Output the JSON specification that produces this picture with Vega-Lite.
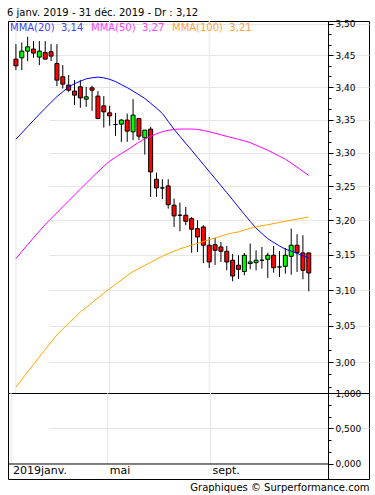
{
  "$schema": "https://vega.github.io/schema/vega-lite/v6.json",
  "background": "white",
  "padding": {"left": 7, "top": 8, "right": 0, "bottom": 0},
  "bounds": "flush",
  "title": {"text": "6 janv. 2019 - 31 déc. 2019 - Dr : 3,12", "anchor": "start", "fontSize": 10, "fontWeight": "normal", "font": "DejaVu Sans", "color": "#000", "offset": 1},
  "datasets": {
    "grid": [
      {"date": "2019-01-07", "label": "2019janv."},
      {"date": "2019-04-29", "label": "mai"},
      {"date": "2019-08-26", "label": "sept."}
    ],
    "candles": [
      {"date": "2019-01-07", "open": 3.4437, "high": 3.4673, "low": 3.4265, "close": 3.4332, "ma20": 3.3204, "ma50": 3.1446, "ma100": 2.9660},
      {"date": "2019-01-14", "open": 3.4458, "high": 3.4699, "low": 3.4265, "close": 3.4563, "ma20": 3.3298, "ma50": 3.1548, "ma100": 2.9763},
      {"date": "2019-01-21", "open": 3.4563, "high": 3.4789, "low": 3.4406, "close": 3.4631, "ma20": 3.3394, "ma50": 3.1647, "ma100": 2.9865},
      {"date": "2019-01-28", "open": 3.4595, "high": 3.4721, "low": 3.4458, "close": 3.4532, "ma20": 3.3489, "ma50": 3.1747, "ma100": 2.9969},
      {"date": "2019-02-04", "open": 3.4469, "high": 3.4721, "low": 3.4343, "close": 3.4563, "ma20": 3.3583, "ma50": 3.1843, "ma100": 3.0070},
      {"date": "2019-02-11", "open": 3.4541, "high": 3.4721, "low": 3.4430, "close": 3.4437, "ma20": 3.3675, "ma50": 3.1937, "ma100": 3.0171},
      {"date": "2019-02-18", "open": 3.4552, "high": 3.4673, "low": 3.4406, "close": 3.4484, "ma20": 3.3767, "ma50": 3.2026, "ma100": 3.0272},
      {"date": "2019-02-25", "open": 3.4368, "high": 3.4673, "low": 3.4016, "close": 3.4109, "ma20": 3.3854, "ma50": 3.2109, "ma100": 3.0374},
      {"date": "2019-03-04", "open": 3.4161, "high": 3.4343, "low": 3.3979, "close": 3.4047, "ma20": 3.3928, "ma50": 3.2197, "ma100": 3.0455},
      {"date": "2019-03-11", "open": 3.4032, "high": 3.4187, "low": 3.3928, "close": 3.3954, "ma20": 3.4004, "ma50": 3.2285, "ma100": 3.0532},
      {"date": "2019-03-18", "open": 3.3939, "high": 3.4109, "low": 3.3723, "close": 3.3877, "ma20": 3.4055, "ma50": 3.2372, "ma100": 3.0611},
      {"date": "2019-03-25", "open": 3.4005, "high": 3.4109, "low": 3.3682, "close": 3.3835, "ma20": 3.4092, "ma50": 3.2458, "ma100": 3.0690},
      {"date": "2019-04-01", "open": 3.3815, "high": 3.4005, "low": 3.3697, "close": 3.3851, "ma20": 3.4129, "ma50": 3.2544, "ma100": 3.0756},
      {"date": "2019-04-08", "open": 3.3990, "high": 3.4021, "low": 3.3636, "close": 3.3954, "ma20": 3.4145, "ma50": 3.2630, "ma100": 3.0822},
      {"date": "2019-04-15", "open": 3.3862, "high": 3.3939, "low": 3.3509, "close": 3.3518, "ma20": 3.4156, "ma50": 3.2715, "ma100": 3.0888},
      {"date": "2019-04-22", "open": 3.3712, "high": 3.3862, "low": 3.3381, "close": 3.3620, "ma20": 3.4145, "ma50": 3.2797, "ma100": 3.0954},
      {"date": "2019-04-29", "open": 3.3605, "high": 3.3712, "low": 3.3407, "close": 3.3559, "ma20": 3.4122, "ma50": 3.2873, "ma100": 3.1020},
      {"date": "2019-05-06", "open": 3.3427, "high": 3.3605, "low": 3.3255, "close": 3.3427, "ma20": 3.4087, "ma50": 3.2933, "ma100": 3.1081},
      {"date": "2019-05-13", "open": 3.3433, "high": 3.3509, "low": 3.3164, "close": 3.3494, "ma20": 3.4039, "ma50": 3.2987, "ma100": 3.1142},
      {"date": "2019-05-20", "open": 3.3494, "high": 3.3594, "low": 3.3164, "close": 3.3326, "ma20": 3.3993, "ma50": 3.3041, "ma100": 3.1205},
      {"date": "2019-05-27", "open": 3.3316, "high": 3.3815, "low": 3.3190, "close": 3.3570, "ma20": 3.3939, "ma50": 3.3100, "ma100": 3.1263},
      {"date": "2019-06-03", "open": 3.3518, "high": 3.3529, "low": 3.3190, "close": 3.3250, "ma20": 3.3883, "ma50": 3.3159, "ma100": 3.1306},
      {"date": "2019-06-10", "open": 3.3225, "high": 3.3341, "low": 3.2972, "close": 3.3341, "ma20": 3.3826, "ma50": 3.3209, "ma100": 3.1350},
      {"date": "2019-06-17", "open": 3.3357, "high": 3.3392, "low": 3.2343, "close": 3.2713, "ma20": 3.3752, "ma50": 3.3247, "ma100": 3.1393},
      {"date": "2019-06-24", "open": 3.2604, "high": 3.2703, "low": 3.2343, "close": 3.2475, "ma20": 3.3678, "ma50": 3.3285, "ma100": 3.1437},
      {"date": "2019-07-01", "open": 3.2475, "high": 3.2604, "low": 3.2309, "close": 3.2475, "ma20": 3.3596, "ma50": 3.3318, "ma100": 3.1480},
      {"date": "2019-07-08", "open": 3.2505, "high": 3.2604, "low": 3.2171, "close": 3.2229, "ma20": 3.3475, "ma50": 3.3338, "ma100": 3.1518},
      {"date": "2019-07-15", "open": 3.2221, "high": 3.2318, "low": 3.1903, "close": 3.2064, "ma20": 3.3353, "ma50": 3.3353, "ma100": 3.1552},
      {"date": "2019-07-22", "open": 3.2074, "high": 3.2259, "low": 3.1841, "close": 3.2074, "ma20": 3.3247, "ma50": 3.3357, "ma100": 3.1587},
      {"date": "2019-07-29", "open": 3.2074, "high": 3.2196, "low": 3.1928, "close": 3.1986, "ma20": 3.3141, "ma50": 3.3358, "ma100": 3.1613},
      {"date": "2019-08-05", "open": 3.2024, "high": 3.2049, "low": 3.1532, "close": 3.1870, "ma20": 3.3037, "ma50": 3.3358, "ma100": 3.1639},
      {"date": "2019-08-12", "open": 3.1879, "high": 3.2001, "low": 3.1542, "close": 3.1758, "ma20": 3.2930, "ma50": 3.3353, "ma100": 3.1666},
      {"date": "2019-08-19", "open": 3.1903, "high": 3.1928, "low": 3.1382, "close": 3.1639, "ma20": 3.2825, "ma50": 3.3336, "ma100": 3.1692},
      {"date": "2019-08-26", "open": 3.1639, "high": 3.1758, "low": 3.1313, "close": 3.1399, "ma20": 3.2719, "ma50": 3.3317, "ma100": 3.1718},
      {"date": "2019-09-02", "open": 3.1647, "high": 3.1744, "low": 3.1356, "close": 3.1567, "ma20": 3.2615, "ma50": 3.3294, "ma100": 3.1744},
      {"date": "2019-09-09", "open": 3.1614, "high": 3.1686, "low": 3.1399, "close": 3.1552, "ma20": 3.2509, "ma50": 3.3271, "ma100": 3.1770},
      {"date": "2019-09-16", "open": 3.1552, "high": 3.1628, "low": 3.1280, "close": 3.1399, "ma20": 3.2406, "ma50": 3.3247, "ma100": 3.1796},
      {"date": "2019-09-23", "open": 3.1423, "high": 3.1513, "low": 3.1124, "close": 3.1199, "ma20": 3.2300, "ma50": 3.3225, "ma100": 3.1816},
      {"date": "2019-09-30", "open": 3.1352, "high": 3.1495, "low": 3.1156, "close": 3.1294, "ma20": 3.2193, "ma50": 3.3201, "ma100": 3.1831},
      {"date": "2019-10-07", "open": 3.1263, "high": 3.1528, "low": 3.1209, "close": 3.1495, "ma20": 3.2087, "ma50": 3.3179, "ma100": 3.1857},
      {"date": "2019-10-14", "open": 3.1377, "high": 3.1662, "low": 3.1294, "close": 3.1399, "ma20": 3.1984, "ma50": 3.3152, "ma100": 3.1883},
      {"date": "2019-10-21", "open": 3.1389, "high": 3.1567, "low": 3.1280, "close": 3.1423, "ma20": 3.1886, "ma50": 3.3114, "ma100": 3.1906},
      {"date": "2019-10-28", "open": 3.1423, "high": 3.1614, "low": 3.1303, "close": 3.1423, "ma20": 3.1809, "ma50": 3.3076, "ma100": 3.1921},
      {"date": "2019-11-04", "open": 3.1437, "high": 3.1532, "low": 3.1171, "close": 3.1495, "ma20": 3.1733, "ma50": 3.3037, "ma100": 3.1935},
      {"date": "2019-11-11", "open": 3.1495, "high": 3.1628, "low": 3.1246, "close": 3.1317, "ma20": 3.1680, "ma50": 3.2993, "ma100": 3.1952},
      {"date": "2019-11-18", "open": 3.1327, "high": 3.1556, "low": 3.1185, "close": 3.1327, "ma20": 3.1628, "ma50": 3.2947, "ma100": 3.1969},
      {"date": "2019-11-25", "open": 3.1337, "high": 3.1600, "low": 3.1232, "close": 3.1495, "ma20": 3.1582, "ma50": 3.2902, "ma100": 3.1986},
      {"date": "2019-12-02", "open": 3.1480, "high": 3.1879, "low": 3.1217, "close": 3.1639, "ma20": 3.1554, "ma50": 3.2845, "ma100": 3.2001},
      {"date": "2019-12-09", "open": 3.1639, "high": 3.1798, "low": 3.1256, "close": 3.1532, "ma20": 3.1522, "ma50": 3.2783, "ma100": 3.2017},
      {"date": "2019-12-16", "open": 3.1528, "high": 3.1783, "low": 3.1152, "close": 3.1280, "ma20": 3.1489, "ma50": 3.2722, "ma100": 3.2032},
      {"date": "2019-12-23", "open": 3.1528, "high": 3.1528, "low": 3.0982, "close": 3.1242, "ma20": 3.1456, "ma50": 3.2661, "ma100": 3.2048}
    ]
  },
  "spacing": 0,
  "resolve": {"scale": {"x": "independent", "y": "independent"}},
  "vconcat": [
    {
      "width": 361,
      "height": 372,
      "layer": [
        {
          "data": {"name": "grid"},
          "mark": {"type": "rule", "color": "#e6e6e6", "strokeWidth": 1},
          "encoding": {
            "x": {"field": "date", "type": "temporal", "axis": null,
                  "scale": {"type": "utc", "domain": [{"year": 2019, "month": 1, "date": 3, "hours": 12, "utc": true}, {"year": 2020, "month": 1, "date": 9, "utc": true}], "range": [0, 320]}}
          }
        },
        {
          "data": {"name": "candles"},
          "mark": {"type": "rule", "color": "#000", "strokeWidth": 1},
          "encoding": {
            "x": {"field": "date", "type": "temporal", "axis": null,
                  "scale": {"type": "utc", "domain": [{"year": 2019, "month": 1, "date": 3, "hours": 12, "utc": true}, {"year": 2020, "month": 1, "date": 9, "utc": true}], "range": [0, 320]}},
            "y": {"field": "low", "type": "quantitative",
                  "scale": {"type": "log", "domain": [2.958, 3.504], "nice": false, "zero": false},
                  "axis": {"orient": "right", "offset": -41, "title": null,
                           "values": [2.9667, 2.9833, 3.0, 3.0167, 3.0333, 3.05, 3.0667, 3.0833, 3.1, 3.1167, 3.1333, 3.15, 3.1667, 3.1833, 3.2, 3.2167, 3.2333, 3.25, 3.2667, 3.2833, 3.3, 3.3167, 3.3333, 3.35, 3.3667, 3.3833, 3.4, 3.4167, 3.4333, 3.45, 3.4667, 3.4833, 3.5],
                           "labelExpr": "abs(datum.value*20 - round(datum.value*20)) < 0.001 ? replace(format(datum.value, '.2f'), '.', ',') : ''",
                           "labelOverlap": false, "labelBound": false, "labelFlush": false,
                           "labelFontSize": 9, "labelPadding": 2,
                           "tickSize": {"condition": {"test": "abs(datum.value*20 - round(datum.value*20)) < 0.001", "value": 5}, "value": 3},
                           "grid": true, "gridColor": "#e6e6e6",
                           "gridOpacity": {"condition": {"test": "abs(datum.value*20 - round(datum.value*20)) < 0.001", "value": 1}, "value": 0}}},
            "y2": {"field": "high"}
          }
        },
        {
          "data": {"name": "candles"},
          "mark": {"type": "bar", "size": 4, "stroke": "#000", "strokeWidth": 1},
          "encoding": {
            "x": {"field": "date", "type": "temporal", "axis": null,
                  "scale": {"type": "utc", "domain": [{"year": 2019, "month": 1, "date": 3, "hours": 12, "utc": true}, {"year": 2020, "month": 1, "date": 9, "utc": true}], "range": [0, 320]}},
            "y": {"field": "open", "type": "quantitative"},
            "y2": {"field": "close"},
            "fill": {"condition": {"test": "datum.close > datum.open", "value": "#00ff00"}, "value": "#ff0000"}
          }
        },
        {
          "data": {"name": "candles"},
          "transform": [{"fold": ["ma20", "ma50", "ma100"], "as": ["series", "ma"]}],
          "mark": {"type": "line", "strokeWidth": 1},
          "encoding": {
            "x": {"field": "date", "type": "temporal", "axis": null,
                  "scale": {"type": "utc", "domain": [{"year": 2019, "month": 1, "date": 3, "hours": 12, "utc": true}, {"year": 2020, "month": 1, "date": 9, "utc": true}], "range": [0, 320]}},
            "y": {"field": "ma", "type": "quantitative"},
            "color": {"field": "series", "type": "nominal",
                      "scale": {"domain": ["ma20", "ma50", "ma100"], "range": ["#0000ff", "#ff00ff", "#ffa500"]},
                      "legend": {"orient": "top-left", "offset": 2, "direction": "horizontal", "title": null,
                                 "symbolSize": 0, "symbolStrokeWidth": 0, "symbolOpacity": 0, "labelOffset": -10,
                                 "labelFont": "DejaVu Sans", "labelFontSize": 10, "labelLimit": 0, "columnPadding": 7,
                                 "labelExpr": "datum.value == 'ma20' ? 'MMA(20)\u00a0\u00a03,14' : datum.value == 'ma50' ? 'MMA(50)\u00a0\u00a03,27' : 'MMA(100)\u00a0\u00a03,21'",
                                 "labelColor": {"expr": "datum.value == 'ma20' ? '#4040ff' : datum.value == 'ma50' ? '#ff40ff' : '#ffa040'"}}}
          }
        }
      ]
    },
    {
      "width": 361,
      "height": 86,
      "layer": [
        {
          "data": {"name": "grid"},
          "mark": {"type": "rule", "color": "#e6e6e6", "strokeWidth": 1},
          "encoding": {
            "x": {"field": "date", "type": "temporal",
                  "scale": {"type": "utc", "domain": [{"year": 2019, "month": 1, "date": 3, "hours": 12, "utc": true}, {"year": 2020, "month": 1, "date": 9, "utc": true}], "range": [0, 320]},
                  "axis": {"labels": false, "ticks": false, "domain": false, "grid": false,
                           "title": "Graphiques © Surperformance.com", "titleFontSize": 10, "titleFontWeight": "normal",
                           "titleColor": "#000", "titleAnchor": "end", "titleAlign": "right", "titleBaseline": "alphabetic",
                           "titleX": 361, "titleY": 11}},
            "y": {"datum": 0, "type": "quantitative",
                  "scale": {"domain": [-0.2113, 1], "nice": false, "zero": false},
                  "axis": {"orient": "right", "offset": -41, "title": null,
                           "values": [0, 0.16667, 0.33333, 0.5, 0.66667, 0.83333, 1],
                           "labelExpr": "abs(datum.value*2 - round(datum.value*2)) < 0.001 ? replace(format(datum.value, '.3f'), '.', ',') : ''",
                           "labelOverlap": false, "labelBound": false, "labelFlush": false,
                           "labelFontSize": 9, "labelPadding": 2,
                           "tickSize": {"condition": {"test": "abs(datum.value*2 - round(datum.value*2)) < 0.001", "value": 5}, "value": 3},
                           "grid": true, "gridColor": "#e6e6e6",
                           "gridOpacity": {"condition": {"test": "abs(datum.value - 0.5) < 0.001", "value": 1}, "value": 0}}},
            "y2": {"datum": 1}
          }
        },
        {
          "data": {"values": [{"edge": "strip"}]},
          "mark": {"type": "rule", "color": "#000", "strokeWidth": 1},
          "encoding": {
            "x": {"datum": {"year": 2019, "month": 1, "date": 3, "hours": 12, "utc": true}, "type": "temporal",
                  "axis": {"labels": false, "ticks": false, "domain": false, "grid": false,
                           "title": "Graphiques © Surperformance.com", "titleFontSize": 10, "titleFontWeight": "normal",
                           "titleColor": "#000", "titleAnchor": "end", "titleAlign": "right", "titleBaseline": "alphabetic",
                           "titleX": 361, "titleY": 11}},
            "x2": {"datum": {"year": 2020, "month": 1, "date": 9, "utc": true}},
            "y": {"datum": 0, "type": "quantitative",
                  "axis": {"orient": "right", "offset": -41, "title": null,
                           "values": [0, 0.16667, 0.33333, 0.5, 0.66667, 0.83333, 1],
                           "labelExpr": "abs(datum.value*2 - round(datum.value*2)) < 0.001 ? replace(format(datum.value, '.3f'), '.', ',') : ''",
                           "labelOverlap": false, "labelBound": false, "labelFlush": false,
                           "labelFontSize": 9, "labelPadding": 2,
                           "tickSize": {"condition": {"test": "abs(datum.value*2 - round(datum.value*2)) < 0.001", "value": 5}, "value": 3},
                           "grid": true, "gridColor": "#e6e6e6",
                           "gridOpacity": {"condition": {"test": "abs(datum.value - 0.5) < 0.001", "value": 1}, "value": 0}}}
          }
        },
        {
          "data": {"name": "grid"},
          "mark": {"type": "text", "align": "left", "baseline": "middle", "dx": 2, "fontSize": 11, "font": "DejaVu Sans", "color": "#000"},
          "encoding": {
            "x": {"field": "date", "type": "temporal",
                  "axis": {"labels": false, "ticks": false, "domain": false, "grid": false,
                           "title": "Graphiques © Surperformance.com", "titleFontSize": 10, "titleFontWeight": "normal",
                           "titleColor": "#000", "titleAnchor": "end", "titleAlign": "right", "titleBaseline": "alphabetic",
                           "titleX": 361, "titleY": 11}},
            "y": {"datum": -0.1056, "type": "quantitative",
                  "axis": {"orient": "right", "offset": -41, "title": null,
                           "values": [0, 0.16667, 0.33333, 0.5, 0.66667, 0.83333, 1],
                           "labelExpr": "abs(datum.value*2 - round(datum.value*2)) < 0.001 ? replace(format(datum.value, '.3f'), '.', ',') : ''",
                           "labelOverlap": false, "labelBound": false, "labelFlush": false,
                           "labelFontSize": 9, "labelPadding": 2,
                           "tickSize": {"condition": {"test": "abs(datum.value*2 - round(datum.value*2)) < 0.001", "value": 5}, "value": 3},
                           "grid": true, "gridColor": "#e6e6e6",
                           "gridOpacity": {"condition": {"test": "abs(datum.value - 0.5) < 0.001", "value": 1}, "value": 0}}},
            "text": {"field": "label"}
          }
        }
      ]
    }
  ],
  "config": {
    "view": {"stroke": "#000", "strokeWidth": 1},
    "font": "DejaVu Sans",
    "axis": {"labelFont": "DejaVu Sans", "titleFont": "DejaVu Sans", "labelColor": "#000", "domainColor": "#000", "tickColor": "#000", "domainWidth": 1, "tickWidth": 1, "labelOverlap": false}
  }
}
